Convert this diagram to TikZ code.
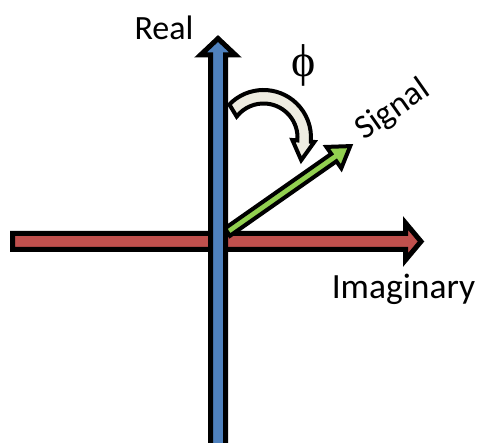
\documentclass[tikz,border=0pt]{standalone}
\usepackage{fontspec}
\setmainfont{Carlito}
\newfontfamily\phifont{Liberation Serif}
\usepackage{xcolor}
\definecolor{axisblue}{HTML}{4F81BD}
\definecolor{axisred}{HTML}{C0504D}
\definecolor{signalgreen}{HTML}{92D050}
\definecolor{phiivory}{HTML}{EEECE1}

\begin{document}
\begin{tikzpicture}[x=1pt, y=1pt, line join=miter]

  \useasboundingbox (0,0) rectangle (479,443);
  \clip (0,0) rectangle (479,443);

  % ==========================================
  % SECTION 1: Imaginary axis (horizontal)
  % ==========================================
  \draw[line width=5pt, fill=axisred] (12.5,193.5) -- (405.5,193.5) -- (405.5,183)
    -- (421,201.5) -- (405.5,220) -- (405.5,209.5) -- (12.5,209.5) -- cycle;

  % ==========================================
  % SECTION 2: Signal vector
  % ==========================================
  \coordinate (origin) at (229,212);
  \begin{scope}[shift={(origin)}, rotate=35]
    \draw[line width=4pt, fill=signalgreen] (-2,-4.5) -- (128,-4.5) -- (128,-13)
      -- (148,0) -- (128,13) -- (128,4.5) -- (-2,4.5) -- cycle;
  \end{scope}

  % ==========================================
  % SECTION 3: Real axis (vertical)
  % ==========================================
  \draw[line width=5pt, fill=axisblue] (210.5,-10) -- (210.5,388) -- (200.5,388)
    -- (218,404.5) -- (235.5,388) -- (225.5,388) -- (225.5,-10) -- cycle;

  % ==========================================
  % SECTION 4: Phase angle arrow
  % ==========================================
  \coordinate (c) at (263.5,305.5);
  \draw[line width=4pt, fill=phiivory]
    ([shift={(136:47.5)}]c) arc[start angle=136, end angle=-5, radius=47.5]
    -- ([shift={(-5:51)}]c) -- ([shift={(-31:44)}]c) -- ([shift={(-5:29)}]c)
    -- ([shift={(-5:34)}]c) arc[start angle=-5, end angle=142, radius=34] -- cycle;

  % Labels
  \node[font=\fontsize{34}{36}\selectfont] (real) at (164,415) {Real};
  \node[font=\fontsize{35.5}{38}\selectfont] (imag) at (403.5,154) {Imaginary};
  \node[font=\fontsize{34}{36}\selectfont, rotate=35] (signal) at (393,333) {Signal};
  \node[font=\fontsize{46}{48}\selectfont\phifont] (phi) at (304,377.5) {ϕ};

\end{tikzpicture}
\end{document}
